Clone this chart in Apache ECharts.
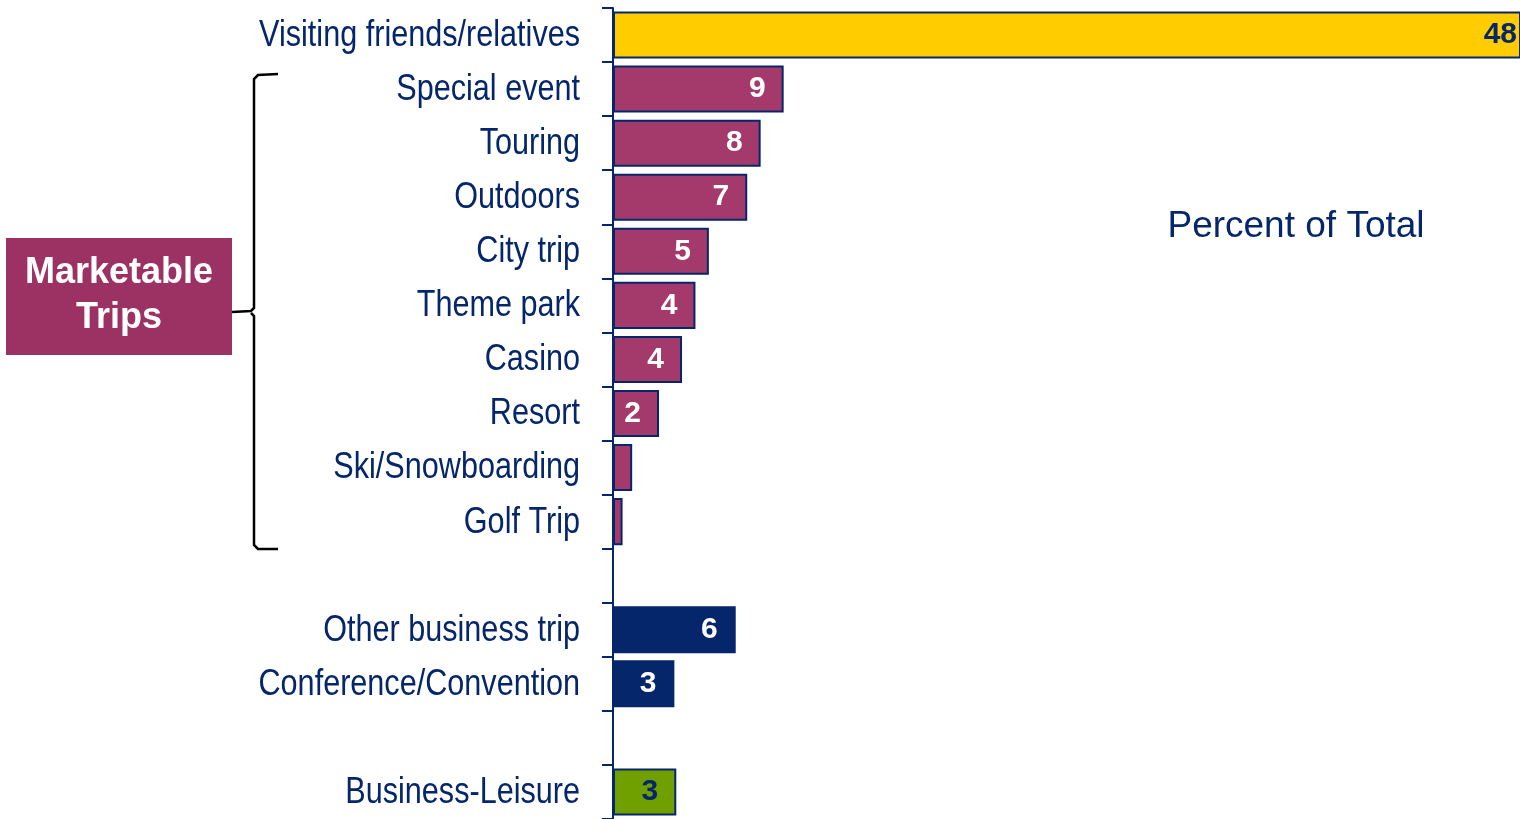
<!DOCTYPE html>
<html>
<head>
<meta charset="utf-8">
<title>Trip purpose</title>
<script src="https://cdn.jsdelivr.net/npm/echarts@6/dist/echarts.min.js"></script>
<style>
  html, body { margin: 0; padding: 0; background: #fff; }
  #chart { width: 1520px; height: 819px; }
</style>
</head>
<body>
<div id="chart"></div>
<script>
// categories top to bottom, empty strings are the spacer rows
var categories = ['Visiting friends/relatives', 'Special event', 'Touring', 'Outdoors', 'City trip',
    'Theme park', 'Casino', 'Resort', 'Ski/Snowboarding', 'Golf Trip', '',
    'Other business trip', 'Conference/Convention', '', 'Business-Leisure'];
var values = [48, 8.9, 7.7, 7.0, 5.0, 4.3, 3.6, 2.4, 1.0, 0.5, null, 6.4, 3.2, null, 3.3];
var groups = ['vfr', 'market', 'market', 'market', 'market', 'market', 'market', 'market', 'market', 'market', 'gap',
    'business', 'business', 'gap', 'bleisure'];

var navy = '#05266A';
var groupStyle = {
    vfr:      {color: '#FFCC00', label: navy},
    market:   {color: '#A43A6C', label: '#fff'},
    business: {color: '#05266A', label: '#fff'},
    bleisure: {color: '#70A000', label: navy},
    gap:      {color: 'transparent', label: 'transparent'}
};

var myChart = echarts.init(document.getElementById('chart'));

var seriesData = values.map(function (v, i) {
    var st = groupStyle[groups[i]];
    return {
        value: v == null ? '-' : v,
        itemStyle: {color: st.color},
        label: {color: st.label, show: v != null && v >= 1.5, distance: i == 0 ? 4 : 18}
    };
});

var option = {
    backgroundColor: '#fff',
    animation: false,
    grid: {left: 613, right: 0, top: 8, bottom: -2},
    xAxis: {
        type: 'value', min: 0, max: 47.3,
        show: false
    },
    yAxis: {
        type: 'category', inverse: true, data: categories,
        axisLine: {show: true, lineStyle: {color: navy, width: 2}},
        axisTick: {show: true, inside: false, length: 11, lineStyle: {color: navy, width: 2}},
        axisLabel: {show: false}
    },
    series: [{
        type: 'bar',
        data: seriesData,
        barWidth: '87%',
        itemStyle: {borderColor: navy, borderWidth: 2},
        label: {
            show: true, position: 'insideRight',
            fontSize: 30, fontWeight: 'bold', fontFamily: '"Liberation Sans", Arial, sans-serif',
            formatter: function (p) { return Math.round(p.value); }
        }
    }],
    graphic: [
        {type: 'rect', shape: {x: 6, y: 238, width: 226, height: 117}, style: {fill: '#9B3263'}},
        {type: 'text', x: 119, y: 296, style: {
            text: 'Marketable\nTrips', fill: '#fff', align: 'center', verticalAlign: 'middle',
            font: 'bold 36px "Liberation Sans", Arial, sans-serif', lineHeight: 45
        }},
        {type: 'polyline', shape: {points: [[278, 74], [258, 75], [254, 79], [254, 308], [251, 311], [232, 312]]},
            style: {stroke: '#000', lineWidth: 2.5, fill: null}},
        {type: 'polyline', shape: {points: [[251, 313], [254, 316], [254, 545], [258, 549], [278, 549]]},
            style: {stroke: '#000', lineWidth: 2.5, fill: null}},
        {type: 'text', x: 1296, y: 227, style: {
            text: 'Percent of Total', fill: navy, align: 'center', verticalAlign: 'middle',
            font: '37px "Liberation Sans", Arial, sans-serif'
        }}
    ]
};

myChart.setOption(option);

// category names in a narrow face: placed at the axis positions, squeezed horizontally
var labelGraphics = categories.map(function (name, i) {
    var y = myChart.convertToPixel({yAxisIndex: 0}, i);
    return {
        type: 'text', x: 580, y: y + 1, scaleX: 0.85,
        style: {
            text: name, fill: navy, align: 'right', verticalAlign: 'middle',
            font: '36px "Liberation Sans", Arial, sans-serif'
        }
    };
});
myChart.setOption({graphic: option.graphic.concat(labelGraphics)});
</script>
</body>
</html>
